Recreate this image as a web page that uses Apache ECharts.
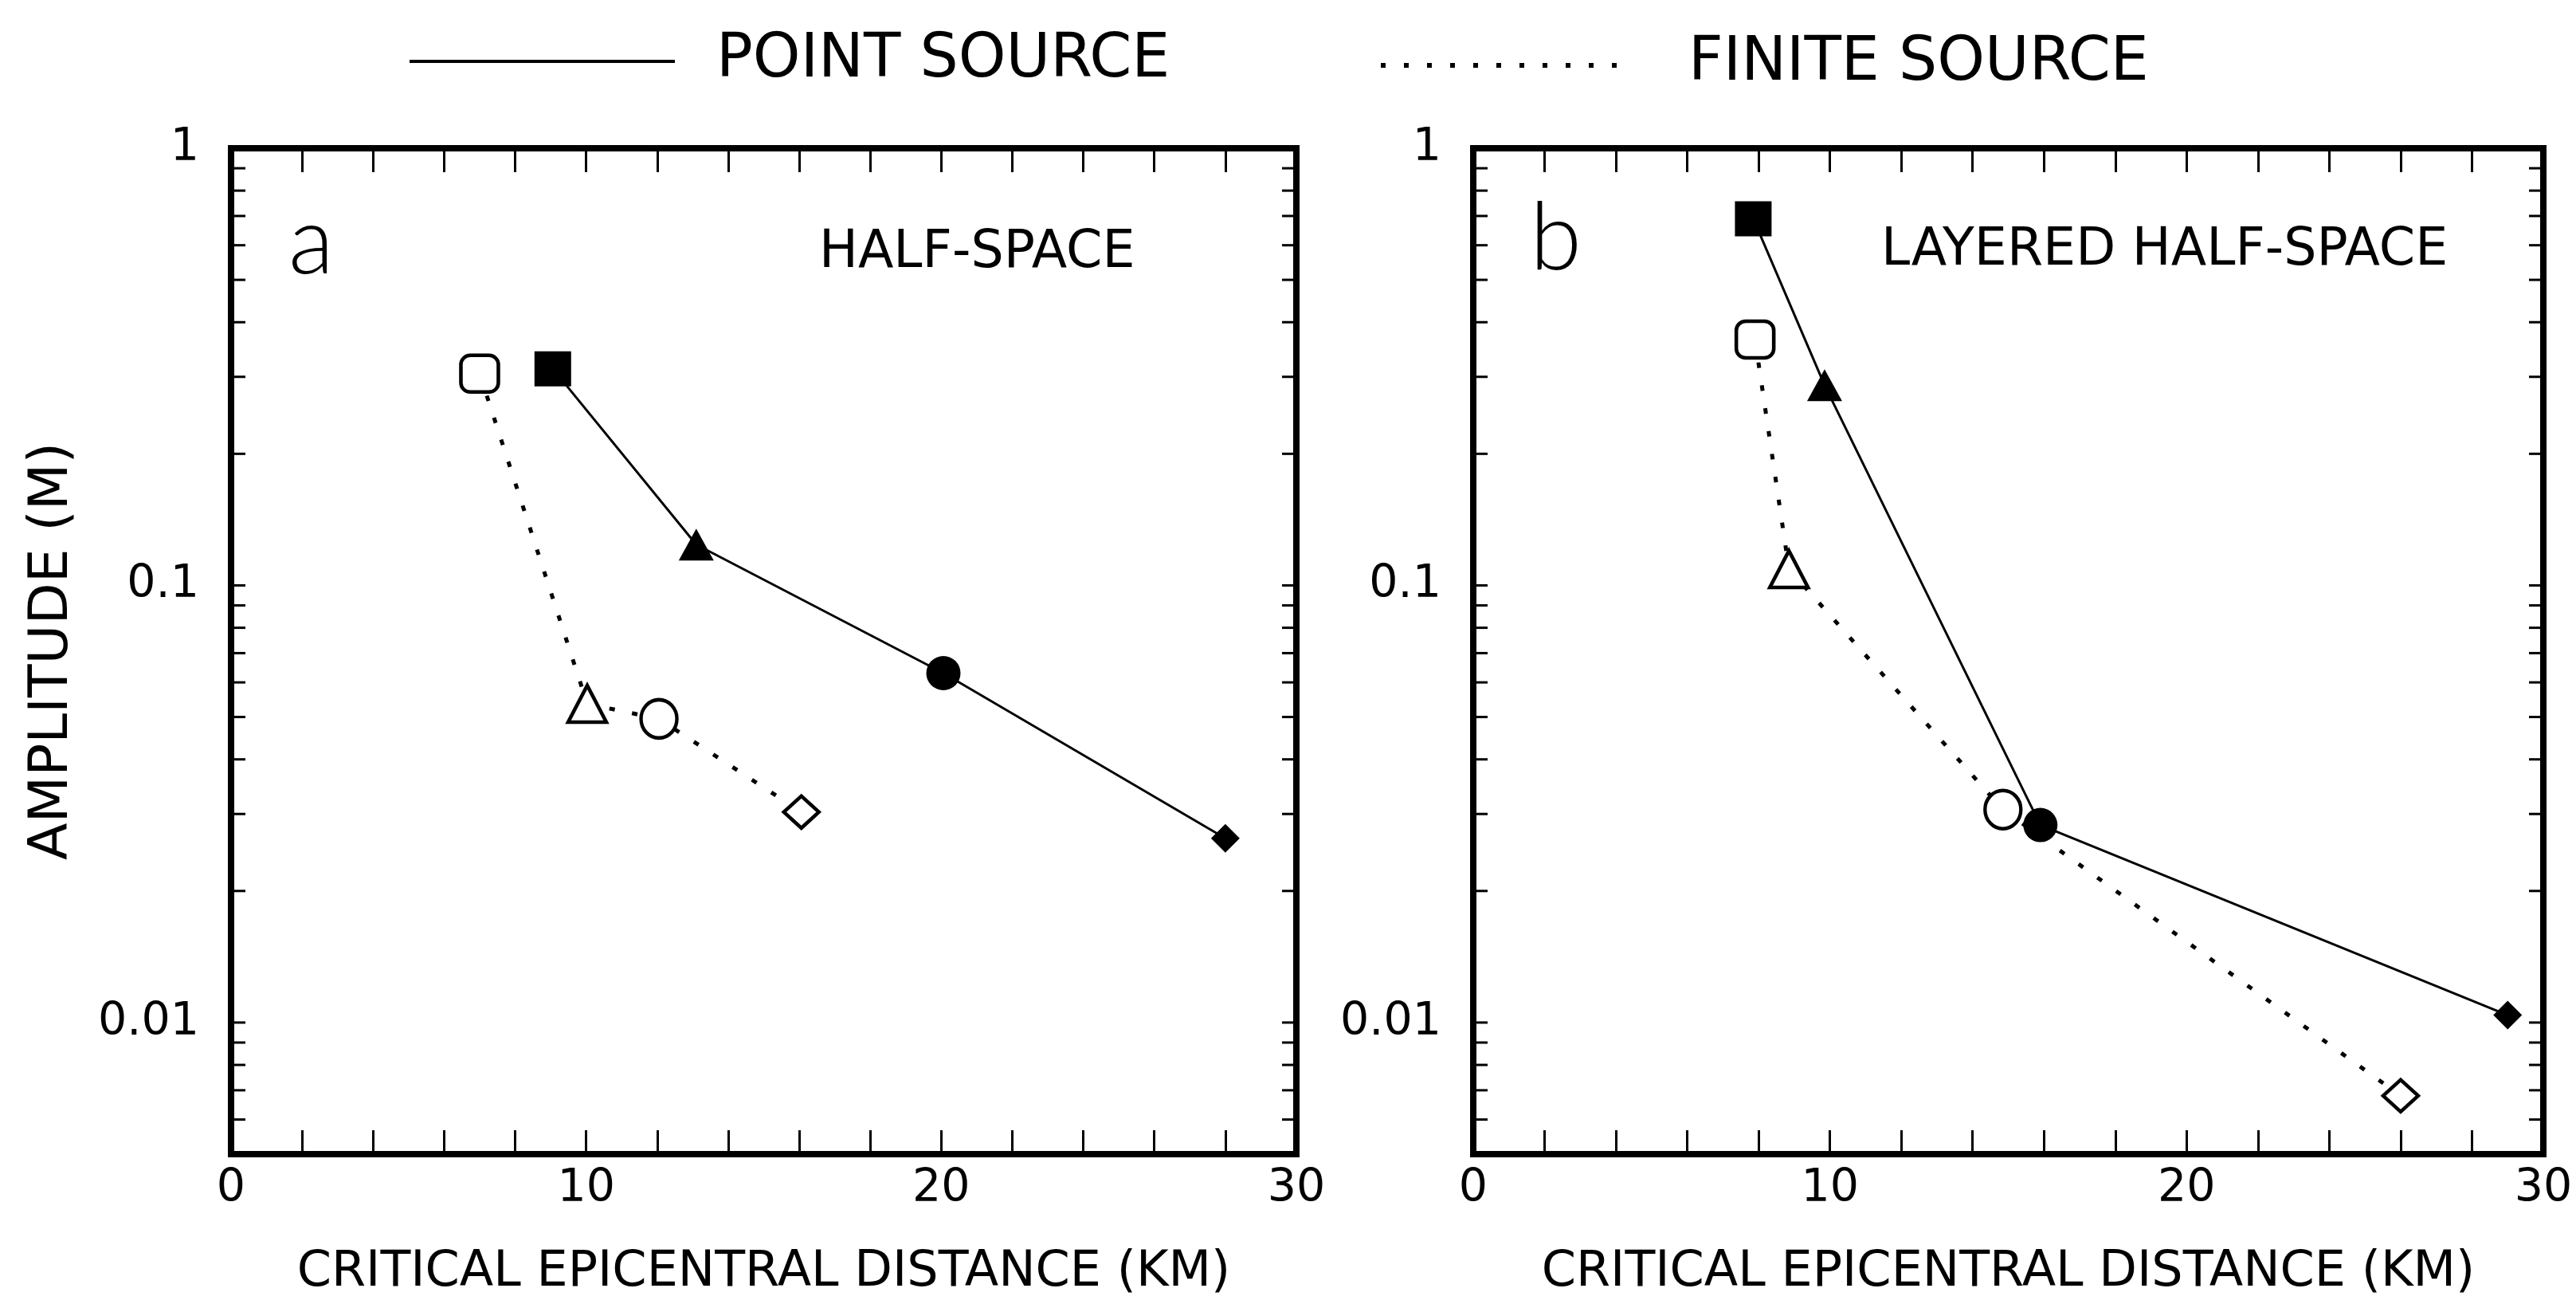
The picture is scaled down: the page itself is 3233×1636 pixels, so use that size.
<!DOCTYPE html>
<html><head><meta charset="utf-8">
<script src="https://cdn.jsdelivr.net/npm/echarts@6/dist/echarts.min.js"></script>
<style>html,body{margin:0;padding:0;background:#fff}#c{width:3233px;height:1636px}</style>
</head><body><div id="c"></div>
<script>
// ---------- data ----------
const markerShapes = ['rect', 'triangle', 'circle', 'diamond'];
// panel a : half-space
const distA_point  = [9.06, 13.1, 20.06, 28.0];
const ampA_point   = [0.313, 0.124, 0.063, 0.0264];
const distA_finite = [7.0, 10.03, 12.05, 16.06];
const ampA_finite  = [0.305, 0.0536, 0.0495, 0.0303];
// panel b : layered half-space
const distB_point  = [7.85, 9.85, 15.9, 29.0];
const ampB_point   = [0.69, 0.287, 0.0283, 0.0104];
const distB_finite = [7.9, 8.85, 14.85, 26.0];
const ampB_finite  = [0.365, 0.109, 0.0307, 0.0068];
// axes
const xTickValues = [0, 10, 20, 30];
const xTickLabels = ['0', '10', '20', '30'];
const yTickValues = [0.01, 0.1, 1];
const yTickLabels = ['0.01', '0.1', '1'];
const yMinorTicks = [0.006, 0.007, 0.008, 0.009, 0.01,
  0.02, 0.03, 0.04, 0.05, 0.06, 0.07, 0.08, 0.09, 0.1,
  0.2, 0.3, 0.4, 0.5, 0.6, 0.7, 0.8, 0.9];
const X_MIN = 0, X_MAX = 30, Y_MIN = 0.005, Y_MAX = 1;

// ---------- styles ----------
const FONT = '"DejaVu Sans", sans-serif';
const filledSizes = [[46, 44], [44, 40], 43, 36];
const openSizes = [[47, 46], [48, 46], [45, 48], [44, 40]];

function buildPoints(xs, ys, sizes, open) {
  return xs.map((x, i) => ({
    value: [x, ys[i]],
    symbol: (open && markerShapes[i] === 'rect') ? 'roundRect' : markerShapes[i],
    symbolSize: sizes[i]
  }));
}

function lineSeries(name, xs, ys, gi, open) {
  return {
    name: name, type: 'line',
    xAxisIndex: gi * 2, yAxisIndex: gi,
    data: buildPoints(xs, ys, open ? openSizes : filledSizes, open),
    showSymbol: true, symbolKeepAspect: false,
    lineStyle: open ? { color: '#000', width: 5, type: [7, 22] } : { color: '#000', width: 3, type: 'solid' },
    itemStyle: open ? { color: '#fff', borderColor: '#000', borderWidth: 4.5 } : { color: '#000', borderWidth: 0 },
    z: open ? 3 : 4,
    emphasis: { disabled: true },
    animation: false
  };
}

function tickSeries(gi) {
  return {
    type: 'custom', xAxisIndex: gi * 2, yAxisIndex: gi, silent: true,
    data: yMinorTicks.map(v => [X_MIN, v]),
    encode: { x: 0, y: 1 },
    renderItem: function (params, api) {
      const v = api.value(1);
      const pL = api.coord([X_MIN, v]);
      const pR = api.coord([X_MAX, v]);
      const L = 18;
      return { type: 'group', children: [
        { type: 'line', shape: { x1: pL[0], y1: pL[1], x2: pL[0] + L, y2: pL[1] }, style: { stroke: '#000', lineWidth: 3 } },
        { type: 'line', shape: { x1: pR[0], y1: pR[1], x2: pR[0] - L, y2: pR[1] }, style: { stroke: '#000', lineWidth: 3 } }
      ]};
    },
    animation: false
  };
}

function xAxisDef(gi, top) {
  return {
    type: 'value', gridIndex: gi, position: top ? 'top' : 'bottom',
    min: X_MIN, max: X_MAX, interval: 2,
    axisLine: { show: false },
    splitLine: { show: false },
    axisTick: { show: true, inside: true, length: 30, lineStyle: { color: '#000', width: 3 } },
    axisLabel: top ? { show: false } : {
      show: true, color: '#000', fontFamily: FONT, fontSize: 57, margin: 16,
      formatter: v => { const k = xTickValues.indexOf(v); return k >= 0 ? xTickLabels[k] : ''; }
    },
    name: top ? '' : 'CRITICAL EPICENTRAL DISTANCE (KM)',
    nameLocation: 'middle', nameGap: 118,
    nameTextStyle: { color: '#000', fontFamily: FONT, fontSize: 62 }
  };
}

function yAxisDef(gi, withName) {
  return {
    type: 'log', logBase: 10, gridIndex: gi, min: Y_MIN, max: Y_MAX,
    axisLine: { show: false }, axisTick: { show: false }, splitLine: { show: false },
    minorTick: { show: false },
    axisLabel: {
      show: true, color: '#000', fontFamily: FONT, fontSize: 57, margin: 40,
      formatter: v => {
        for (let k = 0; k < yTickValues.length; k++) {
          if (Math.abs(Math.log10(v) - Math.log10(yTickValues[k])) < 1e-6) return yTickLabels[k];
        }
        return '';
      }
    },
    name: withName ? 'AMPLITUDE (M)' : '',
    nameLocation: 'middle', nameGap: 190, nameRotate: 90,
    nameTextStyle: { color: '#000', fontFamily: FONT, fontSize: 68 }
  };
}

function txt(text, x, y, size, family, align, weight) {
  return { type: 'text', x: x, y: y, silent: true,
    style: { text: text, fill: '#000', font: (weight || 'normal') + ' ' + size + 'px ' + family,
      textAlign: align || 'left', align: align || 'left', textVerticalAlign: 'middle', verticalAlign: 'middle' } };
}

const option = {
  backgroundColor: '#fff',
  animation: false,
  grid: [
    { left: 290, top: 186, width: 1337, height: 1262, show: true, borderColor: '#000', borderWidth: 8, backgroundColor: 'transparent' },
    { left: 1849, top: 186, width: 1343, height: 1262, show: true, borderColor: '#000', borderWidth: 8, backgroundColor: 'transparent' }
  ],
  xAxis: [xAxisDef(0, false), xAxisDef(0, true), xAxisDef(1, false), xAxisDef(1, true)],
  yAxis: [yAxisDef(0, true), yAxisDef(1, false)],
  series: [
    lineSeries('POINT SOURCE', distA_point, ampA_point, 0, false),
    lineSeries('FINITE SOURCE', distA_finite, ampA_finite, 0, true),
    lineSeries('POINT SOURCE', distB_point, ampB_point, 1, false),
    lineSeries('FINITE SOURCE', distB_finite, ampB_finite, 1, true),
    tickSeries(0), tickSeries(1)
  ],
  graphic: [
    { type: 'line', silent: true, shape: { x1: 514, y1: 77, x2: 847, y2: 77 }, style: { stroke: '#000', lineWidth: 4 } },
    txt('POINT SOURCE', 899, 76, 76, FONT),
    { type: 'line', silent: true, shape: { x1: 1733, y1: 82, x2: 2052, y2: 82 }, style: { stroke: '#000', lineWidth: 6, lineDash: [6, 23] } },
    txt('FINITE SOURCE', 2119, 80, 76, FONT),
    txt('a', 362, 305, 118, 'Lato, "Open Sans", sans-serif', 'left', 300),
    txt('HALF-SPACE', 1028, 318, 65, FONT),
    txt('b', 1920, 300, 118, 'Lato, "Open Sans", sans-serif', 'left', 300),
    txt('LAYERED HALF-SPACE', 2361, 315, 65, FONT)
  ]
};

const chart = echarts.init(document.getElementById('c'), null, { renderer: 'canvas', width: 3233, height: 1636 });
chart.setOption(option);
</script>
</body></html>
